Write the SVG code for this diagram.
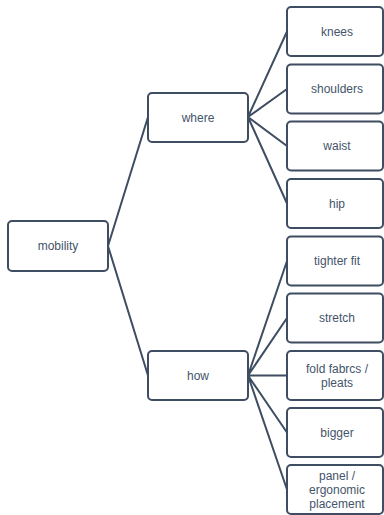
<svg xmlns="http://www.w3.org/2000/svg" width="384" height="515" viewBox="0 0 384 515">
<style>
.box{fill:#fff;stroke:#3e4d61;stroke-width:2}
.lbl{font-family:"Liberation Sans",Arial,sans-serif;font-size:12px;fill:#44546a;text-anchor:middle;dominant-baseline:central}
.con{stroke:#3e4d61;stroke-width:2;fill:none}
</style>
<rect width="384" height="515" fill="#fff"/>
<g id="connectors">
<path class="con" d="M108 246 L148 117 M108 246 L148 375.5"/>
<path class="con" d="M248 117 L287 31.5 M248 117 L287 89 M248 117 L287 146 M248 117 L287 203.5"/>
<path class="con" d="M248 375.5 L287 261 M248 375.5 L287 318 M248 375.5 L287 375.5 M248 375.5 L287 432.5 M248 375.5 L287 489.5"/>
</g>
<g id="mobility"><rect class="box" x="8" y="221" width="100" height="50" rx="4"/><text class="lbl" x="58" y="246">mobility</text></g>
<g id="where"><rect class="box" x="148" y="93" width="100" height="49" rx="4"/><text class="lbl" x="198" y="117.5">where</text></g>
<g id="how"><rect class="box" x="148" y="351" width="100" height="49" rx="4"/><text class="lbl" x="198" y="375.5">how</text></g>
<g id="knees"><rect class="box" x="287" y="7" width="96" height="49" rx="4"/><text class="lbl" x="337" y="31.5">knees</text></g>
<g id="shoulders"><rect class="box" x="287" y="64.5" width="96" height="49" rx="4"/><text class="lbl" x="337" y="89">shoulders</text></g>
<g id="waist"><rect class="box" x="287" y="121.5" width="96" height="49" rx="4"/><text class="lbl" x="337" y="146">waist</text></g>
<g id="hip"><rect class="box" x="287" y="179" width="96" height="49" rx="4"/><text class="lbl" x="337" y="203.5">hip</text></g>
<g id="tighter"><rect class="box" x="287" y="236.5" width="96" height="49" rx="4"/><text class="lbl" x="337" y="261">tighter fit</text></g>
<g id="stretch"><rect class="box" x="287" y="293.5" width="96" height="49" rx="4"/><text class="lbl" x="337" y="318">stretch</text></g>
<g id="fold"><rect class="box" x="287" y="351" width="96" height="49" rx="4"/><text class="lbl" x="337" y="368.5">fold fabrcs /</text><text class="lbl" x="337" y="382.5">pleats</text></g>
<g id="bigger"><rect class="box" x="287" y="408" width="96" height="49" rx="4"/><text class="lbl" x="337" y="432.5">bigger</text></g>
<g id="panel"><rect class="box" x="287" y="465" width="96" height="49" rx="4"/><text class="lbl" x="337" y="475.5">panel /</text><text class="lbl" x="337" y="489.5">ergonomic</text><text class="lbl" x="337" y="503.5">placement</text></g>
</svg>
